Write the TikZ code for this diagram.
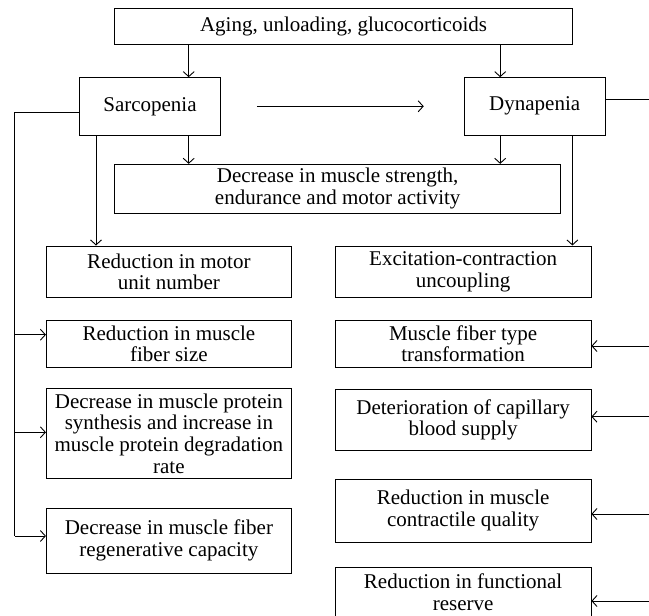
\documentclass[tikz,border=0pt]{standalone}
\usepackage{fontspec}
\setmainfont{Liberation Serif}
\usetikzlibrary{arrows.meta}
\tikzset{
  box/.style={draw, align=center, inner sep=0pt, line width=0.9pt},
  lbox/.style={box, minimum width=245pt},
  rbox/.style={box, minimum width=255.7pt},
  link/.style={line width=0.9pt},
  arr/.style={link, -{Straight Barb[length=5pt,width=11pt]}},
}
\begin{document}
\begin{tikzpicture}[x=1pt, y=-1pt, font=\fontsize{21}{21.7}\selectfont]
\useasboundingbox (0,0) rectangle (649,616);
\fill[white] (0,0) rectangle (649,616);
\clip (0,0) rectangle (649,616);

\node[box, minimum width=457.7pt, minimum height=36pt] (cause) at (343.5,26.3) {Aging, unloading, glucocorticoids};
\node[box, minimum width=141pt, minimum height=57.3pt] (sarc) at (150,106.3) {Sarcopenia};
\node[box, minimum width=141pt, minimum height=57.3pt] (dyna) at (534.7,106.3) {Dynapenia};
\node[box, minimum width=446pt, minimum height=49pt] (strength) at (337.7,188.8) {Decrease in muscle strength,\\endurance and motor activity};

% left column
\node[lbox, minimum height=51.7pt] (motor) at (168.9,271.8) {Reduction in motor\\unit number};
\node[lbox, minimum height=47.3pt] (fsize) at (168.9,343.7) {Reduction in muscle\\fiber size};
\node[lbox, minimum height=90.4pt] (protein) at (168.9,433.5) {Decrease in muscle protein\\synthesis and increase in\\muscle protein degradation\\rate};
\node[lbox, minimum height=64.7pt] (regen) at (168.9,540.7) {Decrease in muscle fiber\\regenerative capacity};

% right column
\node[rbox, minimum height=51.7pt] (excit) at (463.1,271.8) {Excitation-contraction\\uncoupling};
\node[rbox, minimum height=47.3pt] (ftype) at (463.1,343.7) {Muscle fiber type\\transformation};
\node[rbox, minimum height=61.4pt] (capil) at (463.1,420) {Deterioration of capillary\\blood supply};
\node[rbox, minimum height=63.3pt] (contr) at (463.1,510.7) {Reduction in muscle\\contractile quality};
\node[rbox, minimum height=50pt] (funct) at (463.1,592.3) {Reduction in functional\\reserve};

\coordinate (xl) at (188.7,0);
\coordinate (xr) at (500.2,0);
\coordinate (xm) at (96,0);
\coordinate (xe) at (572.4,0);
\coordinate (ltrunk) at (14.9,112.3);
\coordinate (rtrunk) at (662,99);

\draw[arr] (xl |- cause.south) -- (xl |- sarc.north);
\draw[arr] (xr |- cause.south) -- (xr |- dyna.north);
\draw[arr, shorten <=36pt, shorten >=40pt] (sarc.east) -- (dyna.west);
\draw[arr] (xl |- sarc.south) -- (xl |- strength.north);
\draw[arr] (xr |- dyna.south) -- (xr |- strength.north);
\draw[arr] (xm |- sarc.south) -- (xm |- motor.north);
\draw[arr] (xe |- dyna.south) -- (xe |- excit.north);

% sarcopenia trunk on the left
\draw[link] (sarc.west |- ltrunk) -- (ltrunk) -- (14.9,536);
\foreach \n/\dy in {fsize/-9, protein/-1.2, regen/-4.7}{
  \coordinate (t) at ([yshift=-\dy pt]\n.west);
  \draw[arr] (ltrunk |- t) -- (t);
}

% dynapenia trunk on the right
\draw[link] (dyna.east |- rtrunk) -- (rtrunk) -- (662,601);
\foreach \n/\dy in {ftype/2.3, capil/-3.3, contr/3.3, funct/8.7}{
  \coordinate (t) at ([yshift=-\dy pt]\n.east);
  \draw[arr] (rtrunk |- t) -- (t);
}
\end{tikzpicture}
\end{document}
